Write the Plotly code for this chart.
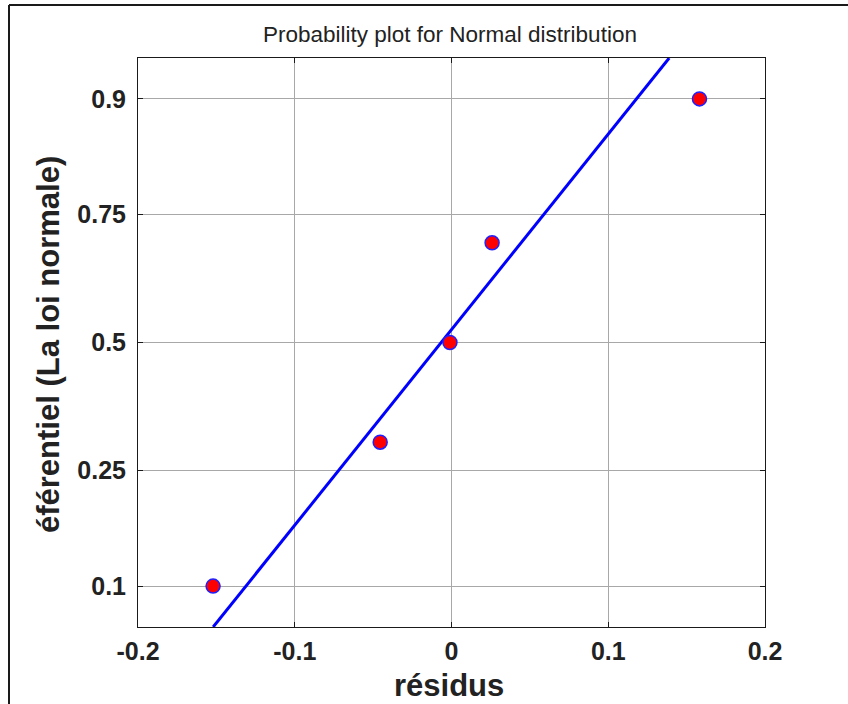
from statistics import NormalDist
import plotly.graph_objects as go

# Residuals (sorted) and their plotting positions (i - 0.5) / n
residus = [-0.1521, -0.0455, -0.0010, 0.0259, 0.1582]
probs = [0.1, 0.3, 0.5, 0.7, 0.9]

# Probability-scale ticks
tick_probs = [0.1, 0.25, 0.5, 0.75, 0.9]
tick_labels = ["0.1", "0.25", "0.5", "0.75", "0.9"]
x_ticks = [-0.2, -0.1, 0.0, 0.1, 0.2]
x_tick_labels = ["-0.2", "-0.1", "0", "0.1", "0.2"]

nd = NormalDist()
z_pts = [nd.inv_cdf(p) for p in probs]
z_ticks = [nd.inv_cdf(p) for p in tick_probs]
z_lim = 1.4966


def prctile(sorted_vals, p):
    # MATLAB-style percentile with midpoint plotting positions
    n = len(sorted_vals)
    pos = [(i + 0.5) / n for i in range(n)]
    if p <= pos[0]:
        return sorted_vals[0]
    if p >= pos[-1]:
        return sorted_vals[-1]
    for i in range(n - 1):
        if pos[i] <= p <= pos[i + 1]:
            t = (p - pos[i]) / (pos[i + 1] - pos[i])
            return sorted_vals[i] + t * (sorted_vals[i + 1] - sorted_vals[i])


# Reference line through the first and third quartiles
q1 = prctile(residus, 0.25)
q3 = prctile(residus, 0.75)
zq1, zq3 = nd.inv_cdf(0.25), nd.inv_cdf(0.75)
slope = (q3 - q1) / (zq3 - zq1)
line_z = [-z_lim, z_lim]
line_x = [q1 + (z - zq1) * slope for z in line_z]

FONT = "Liberation Sans, Arial, sans-serif"
INK = "#222222"

fig = go.Figure()
fig.add_trace(go.Scatter(
    x=line_x, y=line_z, mode="lines",
    line=dict(color="#0000ff", width=3), showlegend=False, hoverinfo="skip",
))
fig.add_trace(go.Scatter(
    x=residus, y=z_pts, mode="markers",
    marker=dict(size=14, color="#ff0000", line=dict(color="#2020ff", width=1.5)),
    showlegend=False,
))

W, H = 848, 704
L, T, R, B = 138, 58, 765, 627
pw, ph = R - L, B - T


def px(x):
    return (x - L) / pw


def py(y):
    return 1 - (y - T) / ph


axis_common = dict(
    showline=True, linecolor="#1a1a1a", linewidth=1, mirror="ticks",
    ticks="inside", ticklen=5, tickcolor="#1a1a1a", tickwidth=1,
    showgrid=True, gridcolor="#a8a8a8", gridwidth=1, zeroline=False,
    tickfont=dict(family=FONT, size=25, color=INK, weight="bold"),
)

fig.update_xaxes(
    range=[-0.2, 0.2], tickmode="array", tickvals=x_ticks, ticktext=x_tick_labels,
    ticklabelstandoff=2, **axis_common,
)
fig.update_yaxes(
    range=[-z_lim, z_lim], tickmode="array", tickvals=z_ticks, ticktext=tick_labels,
    ticklabelstandoff=6, **axis_common,
)

fig.update_layout(
    width=W, height=H,
    margin=dict(l=L, r=W - R, t=T, b=H - B),
    paper_bgcolor="white", plot_bgcolor="white",
    annotations=[
        dict(text="Probability plot for Normal distribution", xref="paper", yref="paper",
             x=px(450), y=py(35), xanchor="center", yanchor="middle", showarrow=False,
             font=dict(family=FONT, size=22.5, color=INK)),
        dict(text="résidus", xref="paper", yref="paper",
             x=px(449), y=py(685), xanchor="center", yanchor="middle", showarrow=False,
             font=dict(family=FONT, size=31, color=INK, weight="bold")),
        dict(text="éférentiel (La loi normale)", xref="paper", yref="paper",
             x=px(48), y=py(345), xanchor="center", yanchor="middle", showarrow=False,
             textangle=-90,
             font=dict(family=FONT, size=31, color=INK, weight="bold")),
    ],
    shapes=[
        dict(type="line", xref="paper", yref="paper",
             x0=px(9), y0=py(720), x1=px(9), y1=py(5),
             line=dict(color="#1a1a1a", width=2)),
        dict(type="line", xref="paper", yref="paper",
             x0=px(9), y0=py(5), x1=px(860), y1=py(5),
             line=dict(color="#1a1a1a", width=2)),
    ],
)

fig.write_html("out.html")
